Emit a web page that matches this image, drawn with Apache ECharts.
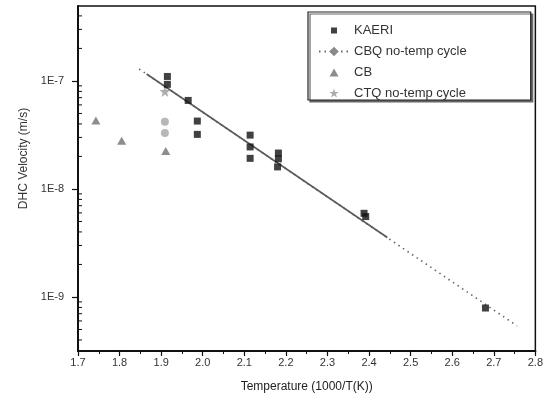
<!DOCTYPE html>
<html>
<head>
<meta charset="utf-8">
<script src="https://cdn.jsdelivr.net/npm/echarts@6/dist/echarts.min.js"></script>
<style>
html,body{margin:0;padding:0;background:#fff;}
#c{width:546px;height:407px;}
</style>
</head>
<body>
<div id="c"></div>
<script>
// KAERI data [1000/T, velocity m/s]
const kaeri = [
  [1.915, 1.1e-7], [1.915, 9.3e-8],
  [1.965, 6.6e-8],
  [1.987, 4.25e-8], [1.987, 3.2e-8],
  [2.114, 3.15e-8], [2.114, 2.45e-8], [2.114, 1.92e-8],
  [2.182, 2.15e-8], [2.182, 1.9e-8], [2.18, 1.6e-8],
  [2.388, 5.95e-9], [2.392, 5.55e-9],
  [2.68, 7.9e-10]
];
// CBQ no-temp cycle: measured points and dotted fit line end points
const cbqPoints = [[1.909, 4.2e-8], [1.909, 3.3e-8]];
const cbqFit = [[1.847, 1.29e-7], [2.756, 5.4e-10]];
// CB data
const cb = [[1.743, 4.3e-8], [1.805, 2.8e-8], [1.911, 2.25e-8]];
// CTQ no-temp cycle
const ctq = [[1.909, 8.0e-8]];
// solid fit line
const solidFit = [[1.865, 1.16e-7], [2.444, 3.55e-9]];

// axis ticks
const xMin = 1.7, xMax = 2.8, xStep = 0.1;
const yMin = 3.16e-10, yMax = 4.94e-7;
const yMinorTicks = [4e-10,5e-10,6e-10,7e-10,8e-10,9e-10,
  2e-9,3e-9,4e-9,5e-9,6e-9,7e-9,8e-9,9e-9,
  2e-8,3e-8,4e-8,5e-8,6e-8,7e-8,8e-8,9e-8,
  2e-7,3e-7,4e-7];

const legendNames = ['KAERI', 'CBQ no-temp cycle', 'CB', 'CTQ no-temp cycle'];

const starPath = 'path://M15,1L16.18,4.38L19.76,4.45L16.9,6.62L17.94,10.05L15,8L12.06,10.05L13.1,6.62L10.24,4.45L13.82,4.38Z';
const starIcon = 'path://M0,0M30,12M15,1L16.18,4.38L19.76,4.45L16.9,6.62L17.94,10.05L15,8L12.06,10.05L13.1,6.62L10.24,4.45L13.82,4.38Z';
const squareIcon = 'path://M0,0M30,12M12,3h6v6h-6z';
const triIcon = 'path://M0,0M30,12M15,2L19.5,10L10.5,10z';

const font = 'Liberation Sans, Arial, sans-serif';
const chart = echarts.init(document.getElementById('c'), null, {renderer: 'canvas'});
chart.setOption({
  animation: false,
  backgroundColor: '#fff',
  grid: {left: 78, right: 9, top: 6, bottom: 56, show: true, borderColor: '#111', borderWidth: 1.5, containLabel: false},
  legend: {
    data: [
      {name: legendNames[0], icon: squareIcon},
      {name: legendNames[1]},
      {name: legendNames[2], icon: triIcon},
      {name: legendNames[3], icon: starIcon}
    ],
    orient: 'vertical', left: 308, top: 12,
    itemWidth: 30, itemHeight: 12, itemGap: 8,
    padding: [12, 64, 0, 10],
    borderColor: '#222', borderWidth: 1.2,
    shadowColor: '#666', shadowOffsetX: 2, shadowOffsetY: 2, shadowBlur: 0,
    backgroundColor: '#fff',
    textStyle: {fontFamily: font, fontSize: 13, color: '#333'}
  },
  xAxis: {
    type: 'value', min: xMin, max: xMax, interval: xStep,
    name: 'Temperature (1000/T(K))', nameLocation: 'middle', nameGap: 30,
    nameTextStyle: {fontFamily: font, fontSize: 12, color: '#222'},
    axisLine: {show: true, onZero: false, lineStyle: {color: '#111', width: 2}},
    axisTick: {show: true, inside: false, length: 5, lineStyle: {color: '#111', width: 1.2}},
    minorTick: {show: true, splitNumber: 2, length: 3, lineStyle: {color: '#111', width: 1}},
    axisLabel: {fontFamily: font, fontSize: 11, color: '#333', margin: 6, formatter: v => v.toFixed(1)},
    splitLine: {show: false}
  },
  yAxis: {
    type: 'log', logBase: 10, min: yMin, max: yMax,
    name: 'DHC Velocity (m/s)', nameLocation: 'middle', nameGap: 46,
    nameTextStyle: {fontFamily: font, fontSize: 12, color: '#333', padding: [0, 0, 0, 40]},
    axisLine: {show: true, lineStyle: {color: '#111', width: 2}},
    axisTick: {show: true, inside: false, length: 6, lineStyle: {color: '#111', width: 1.2}},
    axisLabel: {fontFamily: font, fontSize: 11, color: '#333', margin: 14, showMinLabel: false, showMaxLabel: false,
      formatter: v => '1E' + Math.round(Math.log10(v))},
    splitLine: {show: false}
  },
  series: [
    {
      name: legendNames[1], type: 'line', data: cbqFit,
      symbol: 'diamond', symbolSize: 8, showSymbol: false,
      lineStyle: {color: '#666', width: 1.6, type: [1.5, 4]},
      itemStyle: {color: '#8a8a8a'}, z: 2
    },
    {
      name: 'fit', type: 'line', data: solidFit, symbol: 'none',
      lineStyle: {color: '#5a5a5a', width: 1.6}, z: 2
    },
    {
      name: legendNames[2], type: 'scatter', data: cb, symbol: 'triangle', symbolSize: [9, 8],
      itemStyle: {color: '#707070'}, z: 3
    },
    {
      name: legendNames[1], type: 'scatter', data: cbqPoints, symbol: 'circle', symbolSize: 8,
      itemStyle: {color: '#a5a5a5'}, z: 3
    },
    {
      name: legendNames[3], type: 'scatter', data: ctq, symbol: starPath, symbolSize: 11,
      itemStyle: {color: '#999'}, z: 3
    },
    {
      name: legendNames[0], type: 'scatter', data: kaeri, symbol: 'rect', symbolSize: 7,
      itemStyle: {color: '#111'}, z: 4
    },
    {
      name: 'yMinor', type: 'custom', silent: true, clip: false,
      data: yMinorTicks.map(v => [xMin, v]),
      renderItem: (params, api) => {
        const p = api.coord([api.value(0), api.value(1)]);
        return {type: 'line', shape: {x1: p[0], y1: p[1], x2: p[0] + 4, y2: p[1]},
          style: {stroke: '#111', lineWidth: 1}};
      }
    }
  ]
});
</script>
</body>
</html>
